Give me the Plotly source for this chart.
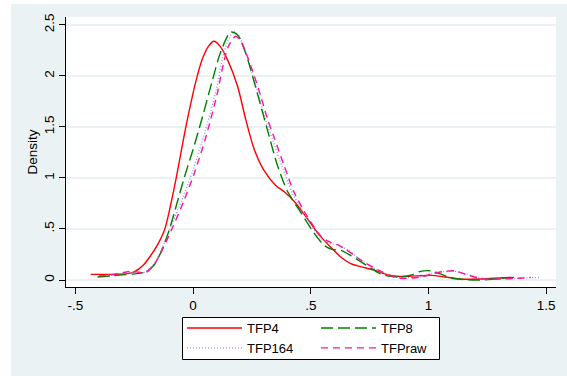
import plotly.graph_objects as go

# ---- data ----
tfp4_x = [-0.435, -0.38, -0.32, -0.28, -0.25, -0.21, -0.18, -0.15, -0.12, -0.095, -0.07, -0.045,
          -0.02, 0.01, 0.04, 0.065, 0.089, 0.115, 0.146, 0.189, 0.224, 0.26, 0.30, 0.35, 0.39, 0.43,
          0.486, 0.53, 0.585, 0.63, 0.67, 0.73, 0.78, 0.83, 0.88, 0.95, 1.01, 1.07, 1.14, 1.22, 1.30, 1.35]
tfp4_y = [0.055, 0.055, 0.057, 0.062, 0.08, 0.15, 0.24, 0.35, 0.50, 0.74, 1.02, 1.33,
          1.62, 1.93, 2.17, 2.29, 2.34, 2.29, 2.16, 1.90, 1.57, 1.28, 1.08, 0.93, 0.86, 0.77,
          0.60, 0.46, 0.32, 0.22, 0.16, 0.12, 0.09, 0.05, 0.035, 0.04, 0.045, 0.03, 0.008, 0.01, 0.02, 0.026]

tfp8_x = [-0.406, -0.35, -0.30, -0.25, -0.20, -0.165, -0.137, -0.10, -0.07, -0.038, 0.0, 0.04, 0.08,
          0.118, 0.16, 0.19, 0.224, 0.274, 0.316, 0.359, 0.401, 0.458, 0.514, 0.557, 0.59, 0.628, 0.67,
          0.712, 0.76, 0.797, 0.84, 0.882, 0.93, 0.967, 1.01, 1.05, 1.095, 1.15, 1.22, 1.30, 1.364]
tfp8_y = [0.03, 0.04, 0.05, 0.06, 0.08, 0.15, 0.27, 0.50, 0.74, 1.00, 1.28, 1.60, 1.94,
          2.24, 2.43, 2.40, 2.22, 1.82, 1.47, 1.12, 0.87, 0.66, 0.46, 0.34, 0.30, 0.29, 0.24,
          0.18, 0.11, 0.06, 0.035, 0.03, 0.05, 0.085, 0.09, 0.06, 0.02, 0.005, 0.0, 0.015, 0.026]

tfp164_x = [-0.40, -0.35, -0.30, -0.27, -0.24, -0.21, -0.19, -0.16, -0.13, -0.095, -0.045, 0.0, 0.05,
            0.10, 0.12, 0.145, 0.175, 0.20, 0.225, 0.255, 0.28, 0.31, 0.34, 0.38, 0.42, 0.48, 0.54, 0.58,
            0.62, 0.66, 0.70, 0.75, 0.79, 0.84, 0.88, 0.93, 0.97, 1.01, 1.06, 1.11, 1.16, 1.21, 1.26,
            1.32, 1.38, 1.43, 1.47]
tfp164_y = [0.04, 0.05, 0.065, 0.075, 0.075, 0.075, 0.10, 0.18, 0.32, 0.52, 0.80, 1.08, 1.45,
            1.88, 2.12, 2.33, 2.44, 2.37, 2.22, 2.00, 1.80, 1.56, 1.36, 1.10, 0.86, 0.62, 0.41, 0.36,
            0.34, 0.29, 0.22, 0.14, 0.09, 0.04, 0.02, 0.025, 0.035, 0.06, 0.08, 0.085, 0.06, 0.025, 0.01,
            0.012, 0.018, 0.022, 0.025]

tfpraw_x = [-0.40, -0.35, -0.30, -0.27, -0.24, -0.21, -0.19, -0.16, -0.13, -0.09, -0.04, 0.004, 0.054,
            0.104, 0.125, 0.15, 0.181, 0.205, 0.231, 0.26, 0.288, 0.316, 0.344, 0.387, 0.429, 0.486,
            0.543, 0.578, 0.62, 0.642, 0.68, 0.712, 0.76, 0.797, 0.84, 0.882, 0.93, 0.967, 1.01, 1.05,
            1.11, 1.166, 1.21, 1.25, 1.31, 1.364, 1.40, 1.435]
tfpraw_y = [0.04, 0.05, 0.07, 0.085, 0.08, 0.07, 0.09, 0.17, 0.30, 0.50, 0.77, 1.04, 1.40,
            1.84, 2.08, 2.29, 2.39, 2.33, 2.19, 2.00, 1.80, 1.58, 1.40, 1.12, 0.86, 0.62,
            0.43, 0.375, 0.34, 0.31, 0.25, 0.196, 0.13, 0.088, 0.04, 0.016, 0.02, 0.03, 0.055, 0.078,
            0.09, 0.05, 0.02, 0.007, 0.01, 0.016, 0.02, 0.026]

x_ticks = [-0.5, 0, 0.5, 1, 1.5]
x_tick_labels = ["-.5", "0", ".5", "1", "1.5"]
y_ticks = [0, 0.5, 1, 1.5, 2, 2.5]
y_tick_labels = ["0", ".5", "1", "1.5", "2", "2.5"]

BG = "#EAF2F3"
FONT = "Liberation Sans, Arial, sans-serif"

fig = go.Figure()
fig.add_trace(go.Scatter(x=tfp4_x, y=tfp4_y, mode="lines", name="TFP4", legendgroup="c1",
                         line=dict(color="#FF0000", width=1.4, shape="spline", smoothing=0.8)))
fig.add_trace(go.Scatter(x=tfp164_x, y=tfp164_y, mode="lines", name="TFP164", legendgroup="c1",
                         line=dict(color="#8C8CFF", width=1.3, dash="1px,2px", shape="spline", smoothing=0.8)))
fig.add_trace(go.Scatter(x=tfp8_x, y=tfp8_y, mode="lines", name="TFP8", legendgroup="c2",
                         line=dict(color="#008000", width=1.4, dash="12px,5px", shape="spline", smoothing=0.8)))
fig.add_trace(go.Scatter(x=tfpraw_x, y=tfpraw_y, mode="lines", name="TFPraw", legendgroup="c2",
                         line=dict(color="#FF1493", width=1.4, dash="7px,5px", shape="spline", smoothing=0.8)))

W, H = 567, 376
L, R, T, B = 66, 11, 17, 89
pw, ph = W - L - R, H - T - B

def px2paper_x(px):
    return (px - L) / pw

def px2paper_y(py):
    return (H - B - py) / ph

shapes = [
    # white strips outside the grey outer frame
    dict(type="rect", xref="paper", yref="paper", layer="below",
         x0=px2paper_x(0), x1=px2paper_x(W), y0=px2paper_y(4), y1=px2paper_y(0),
         fillcolor="white", line=dict(width=0)),
    dict(type="rect", xref="paper", yref="paper", layer="below",
         x0=px2paper_x(0), x1=px2paper_x(11), y0=px2paper_y(H), y1=px2paper_y(0),
         fillcolor="white", line=dict(width=0)),
    # legend box
    dict(type="rect", xref="paper", yref="paper", layer="above",
         x0=px2paper_x(182.5), x1=px2paper_x(439.5), y0=px2paper_y(359.5), y1=px2paper_y(317.5),
         fillcolor="white", line=dict(width=1, color="black")),
]

fig.update_layout(
    width=W, height=H,
    margin=dict(l=L, r=R, t=T, b=B, pad=0, autoexpand=False),
    paper_bgcolor=BG, plot_bgcolor="white",
    font=dict(family=FONT, size=13, color="black"),
    shapes=shapes,
    showlegend=True,
    legend=dict(orientation="h", traceorder="grouped", x=px2paper_x(182), y=px2paper_y(313),
                xanchor="left", yanchor="top", bgcolor="rgba(0,0,0,0)", borderwidth=0,
                font=dict(family=FONT, size=13), itemwidth=55, tracegroupgap=0, entrywidth=64),
    xaxis=dict(range=[-0.540, 1.542], tickvals=x_ticks, ticktext=x_tick_labels, showgrid=False,
               zeroline=False, showline=True, linecolor="black", linewidth=1, ticks="outside",
               ticklen=6, tickcolor="black", tickfont=dict(size=13.5), automargin=False),
    yaxis=dict(range=[-0.0686, 2.578], tickvals=y_ticks, ticktext=y_tick_labels, showgrid=True,
               gridcolor=BG, gridwidth=1.5, zeroline=False, showline=True, linecolor="black",
               linewidth=1, ticks="outside", ticklen=6, tickcolor="black", tickangle=-90,
               tickfont=dict(size=13.5), automargin=False,
               title=dict(text="Density", font=dict(size=13.5), standoff=0)),
)

fig.write_html("out.html", config={"displayModeBar": False},
               post_script="document.body.style.margin='0';")
